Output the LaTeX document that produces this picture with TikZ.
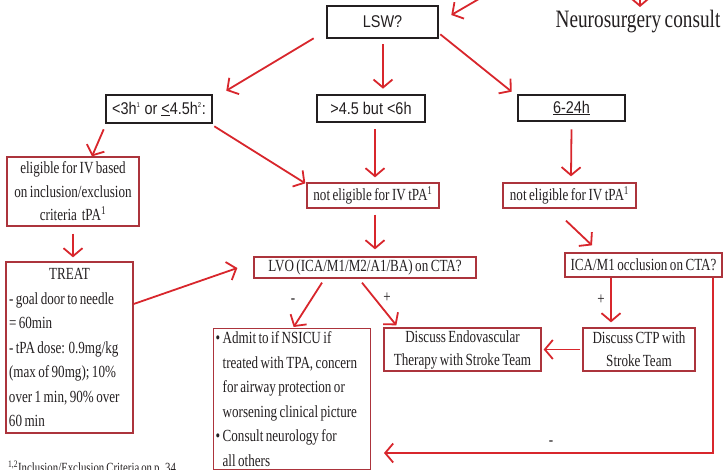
\documentclass[tikz,border=0pt]{standalone}
\usepackage{fontspec}
\setmainfont{Liberation Serif}[FakeStretch=0.77,WordSpace=0.75]
\newfontfamily\boxsans{Liberation Sans}[FakeStretch=0.85]
\usetikzlibrary{arrows.meta,calc}
\definecolor{arrowred}{RGB}{216,38,44}
\definecolor{boxred}{RGB}{172,52,60}
\definecolor{ink}{RGB}{35,31,32}

\begin{document}
\begin{tikzpicture}[x=1pt,y=-1pt,
  every node/.style={text=ink, inner sep=0pt},
  qbox/.style={draw=ink, line width=2.6pt, font=\boxsans\fontsize{17}{20}\selectfont, align=center},
  rbox/.style={draw=boxred, line width=1.3pt, font=\fontsize{17}{24}\selectfont},
  arr/.style={draw=arrowred, line width=1.8pt, -{Straight Barb[length=8pt,width=19pt]}},
  sign/.style={font=\fontsize{17}{20}\selectfont}
]
\useasboundingbox (0,0) rectangle (726,469);
\clip (0,0) rectangle (726,469);

% question boxes
\node[qbox, minimum width=111pt, minimum height=32pt] (lsw) at (382.5,22) {LSW?};
\node[font=\fontsize{25}{28}\selectfont] (neuro) at (638,22) {Neurosurgery consult};
\node[qbox, minimum width=106pt, minimum height=28pt] (early) at (159,109) {<3h\textsuperscript{\scriptsize 1} or \underline{<}4.5h\textsuperscript{\scriptsize 2}:};
\node[qbox, minimum width=108pt, minimum height=27pt] (mid) at (371,108.5) {>4.5 but <6h};
\node[qbox, minimum width=107pt, minimum height=26pt] (late) at (571.5,108) {\underline{6-24h}};

% decision boxes
\node[rbox, minimum width=132pt, minimum height=69pt, align=center, font=\fontsize{17}{23.5}\selectfont] (elig) at (73,191.5)
  {eligible for IV based\\on inclusion/exclusion\\criteria\ \ tPA\textsuperscript{1}};
\node[rbox, minimum width=132pt, minimum height=25pt] (ne1) at (373,195.5) {not eligible for IV tPA\textsuperscript{1}};
\node[rbox, minimum width=133pt, minimum height=25pt] (ne2) at (569.5,195.5) {not eligible for IV tPA\textsuperscript{1}};
\node[rbox, minimum width=127pt, minimum height=171pt, text width=121pt, align=flush left, font=\fontsize{17}{24.5}\selectfont] (treat) at (69.5,347.5)
  {\makebox[\linewidth]{TREAT}\\
   \mbox{- goal door to needle}\\
   \mbox{= 60min}\\
   \mbox{- tPA dose: 0.9mg/kg}\\
   \mbox{(max of 90mg); 10\%}\\
   \mbox{over 1 min, 90\% over}\\
   \mbox{60 min}};
\node[rbox, minimum width=222pt, minimum height=21pt] (lvo) at (365,267.5) {LVO (ICA/M1/M2/A1/BA) on CTA?};
\node[rbox, minimum width=157pt, minimum height=24pt] (ica) at (643.5,265) {ICA/M1 occlusion on CTA?};
\node[rbox, anchor=north west, text width=153pt, inner xsep=2pt, inner ysep=3pt, align=flush left, font=\fontsize{17}{24.5}\selectfont] (admit) at (213,328)
  {\mbox{\textbullet\ Admit to if NSICU if}\\
   \mbox{\hspace*{7pt}treated with TPA, concern}\\
   \mbox{\hspace*{7pt}for airway protection or}\\
   \mbox{\hspace*{7pt}worsening clinical picture}\\
   \mbox{\textbullet\ Consult neurology for}\\
   \mbox{\hspace*{7pt}all others}};
\node[rbox, minimum width=157pt, minimum height=43pt, align=center, font=\fontsize{17}{23}\selectfont] (endo) at (462.5,349.5)
  {Discuss Endovascular\\Therapy with Stroke Team};
\node[rbox, minimum width=112pt, minimum height=43pt, align=center, font=\fontsize{17}{23}\selectfont] (ctp) at (639,349.5)
  {Discuss CTP with\\Stroke Team};

% footnote
\node[anchor=base west, font=\fontsize{14}{16}\selectfont] (fn) at (8,472.5) {\textsuperscript{1,2}Inclusion/Exclusion Criteria on p. 34};

% branch signs
\node[sign] (m1) at (293,301) {-};
\node[sign] (p1) at (387,298) {+};
\node[sign] (p2) at (601,300) {+};
\node[sign] (m2) at (551,443) {-};

% free ends
\coordinate (topin) at (484,-4);
\coordinate (neuroin) at (640,-4);
\coordinate (ret) at (384,453);

% connectors
\draw[arr] (topin) -- ($(lsw.east)+(12,-7)$);
\draw[arr] (neuroin) -- ($(neuro.center)+(2,-15)$);
\draw[arr] ($(lsw.south west)+(-12,-1)$) -- ($(early.north east)+(13,-3)$);
\draw[arr] ($(lsw.south)+(0.5,5)$) -- ($(mid.north)+(12,-5)$);
\draw[arr] ($(lsw.south east)+(1,-5)$) -- ($(late.north west)+(-5,-2)$);
\draw[arr] ($(early.south west)+(-1,5)$) -- ($(elig.north)+(19,0)$);
\draw[arr] ($(early.south east)+(1,2)$) -- ($(ne1.north west)+(-1,1)$);
\draw[arr] ($(mid.south)+(4,6)$) -- ($(ne1.north)+(2,-5)$);
\draw[arr] ($(late.south)+(0,7)$) -- ($(ne2.north)+(1.5,-6)$);
\draw[arr] ($(elig.south)+(0,7)$) -- ($(treat.north)+(3.5,-4)$);
\draw[arr] ($(ne1.south)+(2,6)$) -- ($(lvo.north)+(10,-7)$);
\draw[arr] ($(ne2.south)+(-3.5,12)$) -- ($(ica.north)+(-51.5,-7)$);
\draw[arr] ($(treat.east)+(0,-43.5)$) -- ($(lvo.west)+(-16,0.5)$);
\draw[arr] ($(lvo.south)+(-43,4)$) -- ($(admit.north)+(1.5,-1)$);
\draw[arr] ($(lvo.south)+(-3,4)$) -- ($(endo.north west)+(13,-2)$);
\draw[arr] ($(ica.south)+(-32.5,0)$) -- ($(ctp.north)+(-28,-5)$);
\draw[arr] ($(ctp.west)+(-2,0)$) -- ($(endo.east)+(2,0)$);
\draw[arr] ($(ica.south east)+(-10,0)$) |- (ret);
\end{tikzpicture}
\end{document}
